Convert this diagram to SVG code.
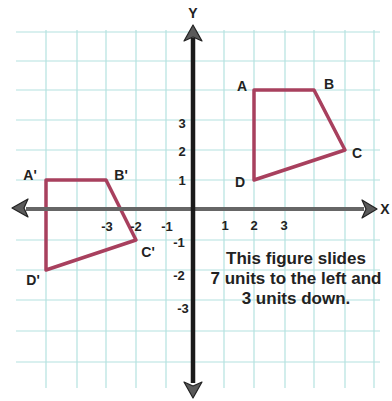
<svg xmlns="http://www.w3.org/2000/svg" width="392" height="401" viewBox="0 0 392 401">
<defs>
<style>
.grid line{stroke:#b4e2e0;stroke-width:1.2}
.lbl{font-family:"Liberation Sans",Arial,sans-serif;font-weight:bold;font-size:14px;fill:#222;text-anchor:middle;dominant-baseline:central}
.num{font-family:"Liberation Sans",Arial,sans-serif;font-weight:bold;font-size:13px;fill:#222;text-anchor:middle;dominant-baseline:central}
.note{font-family:"Liberation Sans",Arial,sans-serif;font-weight:bold;font-size:17px;fill:#222;text-anchor:middle}
.shape{fill:none;stroke:#a8405e;stroke-width:3.5;stroke-linejoin:round}
.head{fill:#5a5a5a;stroke:#222;stroke-width:1.2;stroke-linejoin:round}
</style>
</defs>
<rect width="392" height="401" fill="#ffffff"/>
<g id="grid" class="grid">
<line x1="46" y1="30" x2="46" y2="388"/>
<line x1="77" y1="30" x2="77" y2="388"/>
<line x1="106" y1="30" x2="106" y2="388"/>
<line x1="136" y1="30" x2="136" y2="388"/>
<line x1="166" y1="30" x2="166" y2="388"/>
<line x1="224" y1="30" x2="224" y2="388"/>
<line x1="254" y1="30" x2="254" y2="388"/>
<line x1="285" y1="30" x2="285" y2="388"/>
<line x1="314" y1="30" x2="314" y2="388"/>
<line x1="345" y1="30" x2="345" y2="388"/>
<line x1="374" y1="30" x2="374" y2="388"/>
<line x1="16" y1="32" x2="380" y2="32"/>
<line x1="16" y1="61" x2="380" y2="61"/>
<line x1="16" y1="90" x2="380" y2="90"/>
<line x1="16" y1="120" x2="380" y2="120"/>
<line x1="16" y1="150" x2="380" y2="150"/>
<line x1="16" y1="180" x2="380" y2="180"/>
<line x1="16" y1="240" x2="380" y2="240"/>
<line x1="16" y1="270" x2="380" y2="270"/>
<line x1="16" y1="300" x2="380" y2="300"/>
<line x1="16" y1="331" x2="380" y2="331"/>
<line x1="16" y1="362" x2="380" y2="362"/>
</g>
<g id="original">
<polygon class="shape" points="254,90 314,90 345,150 254,180"/>
<text class="lbl" x="242" y="86">A</text>
<text class="lbl" x="329" y="84">B</text>
<text class="lbl" x="357" y="153">C</text>
<text class="lbl" x="240" y="182">D</text>
</g>
<g id="image">
<polygon class="shape" points="46,180 106,180 136,240 46,270"/>
<text class="lbl" x="30" y="175">A'</text>
<text class="lbl" x="121" y="175">B'</text>
<text class="lbl" x="148" y="252">C'</text>
<text class="lbl" x="33" y="280">D'</text>
</g>
<g id="axes">
<line x1="26" y1="209" x2="364" y2="209" stroke="#666" stroke-width="4"/>
<line x1="193" y1="38" x2="193" y2="383" stroke="#1a1a1a" stroke-width="4.5"/>
<polygon class="head" points="12,208 28,199 24,208 28,217"/>
<polygon class="head" points="377,209 362,200 366,209 362,218"/>
<polygon class="head" points="193,25 184,41 193,37 202,41"/>
<polygon class="head" points="193,398 184,382 193,386 202,382"/>
<text class="lbl" x="193" y="13">Y</text>
<text class="lbl" x="385" y="209">X</text>
</g>
<g id="ticks">
<text class="num" x="107" y="226">-3</text>
<text class="num" x="136" y="226">-2</text>
<text class="num" x="167" y="226">-1</text>
<text class="num" x="225" y="225">1</text>
<text class="num" x="254" y="225">2</text>
<text class="num" x="284" y="225">3</text>
<text class="num" x="182" y="123">3</text>
<text class="num" x="182" y="151">2</text>
<text class="num" x="182" y="180">1</text>
<text class="num" x="179" y="242">-1</text>
<text class="num" x="179" y="275">-2</text>
<text class="num" x="183" y="308">-3</text>
</g>
<g id="caption">
<text class="note" x="296" y="264">This figure slides</text>
<text class="note" x="296" y="284">7 units to the left and</text>
<text class="note" x="296" y="304">3 units down.</text>
</g>
</svg>
